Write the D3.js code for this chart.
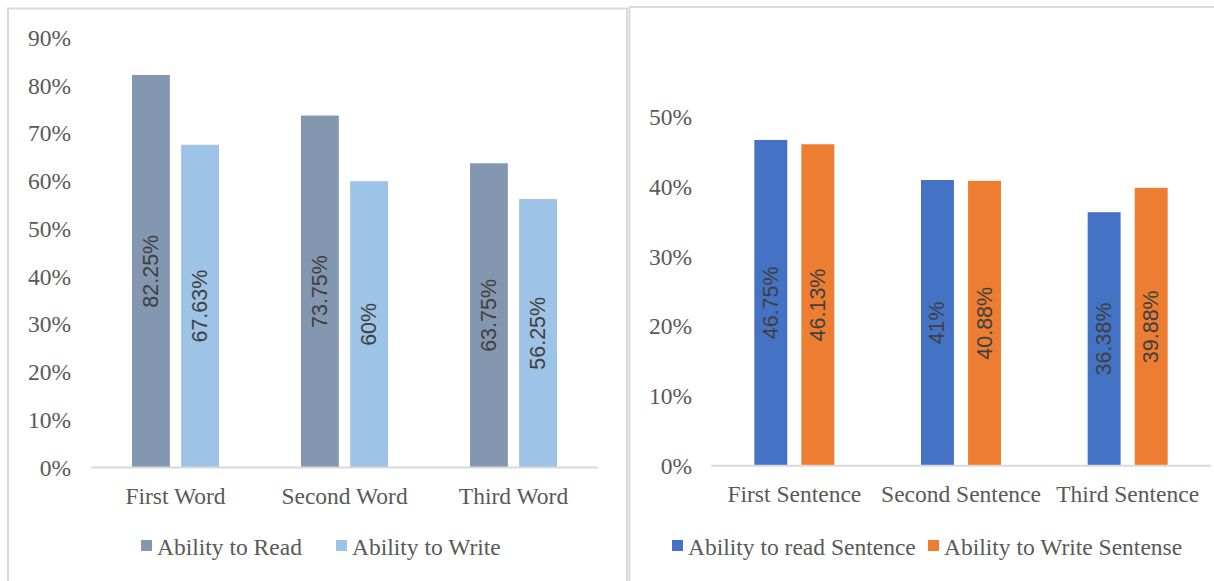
<!DOCTYPE html>
<html>
<head>
<meta charset="utf-8">
<script src="https://cdn.jsdelivr.net/npm/d3@7"></script>
<style>
  html, body { margin: 0; padding: 0; background: #fff; }
  svg { display: block; }
  .tick-label, .cat-label, .legend-label { font-family: "Liberation Serif", "Times New Roman", serif; font-size: 23.5px; fill: #595959; }
  .value-label { font-family: "Liberation Sans", Arial, sans-serif; font-size: 21.5px; fill: #404040; }
</style>
</head>
<body>
<svg id="chart" width="1214" height="581"></svg>
<script>
// Word recognition (left panel)
const wordCategories = ["First Word", "Second Word", "Third Word"];
const wordSeries = ["Ability to Read", "Ability to Write"];
const readWord = [82.25, 73.75, 63.75];
const writeWord = [67.63, 60, 56.25];
const wordTicks = [0, 10, 20, 30, 40, 50, 60, 70, 80, 90];
const wordColors = ["#8497B0", "#9DC3E6"];

// Sentence recognition (right panel)
const sentenceCategories = ["First Sentence", "Second Sentence", "Third Sentence"];
const sentenceSeries = ["Ability to read Sentence", "Ability to Write Sentense"];
const readSentence = [46.75, 41, 36.38];
const writeSentence = [46.13, 40.88, 39.88];
const sentenceTicks = [0, 10, 20, 30, 40, 50];
const sentenceColors = ["#4472C4", "#ED7D31"];

const svg = d3.select("#chart");
const fmtPct = v => v + "%";

// panel frames
svg.append("rect").attr("x", 8).attr("y", 8.5).attr("width", 619).attr("height", 600)
  .attr("fill", "none").attr("stroke", "#D9D9D9").attr("stroke-width", 2);
svg.append("rect").attr("x", 629.5).attr("y", 7).attr("width", 600).attr("height", 600)
  .attr("fill", "none").attr("stroke", "#D9D9D9").attr("stroke-width", 2);

function drawPanel(cfg) {
  const g = svg.append("g");
  const y = d3.scaleLinear().domain(cfg.yDomain).range([cfg.y0, cfg.y1]);
  const x0 = d3.scaleBand().domain(cfg.categories).range([cfg.xLeft, cfg.xRight]);
  const x1 = d3.scaleBand().domain(cfg.series).range([0, cfg.groupWidth]).paddingInner(cfg.innerPad);
  const groupOffset = (x0.bandwidth() - cfg.groupWidth) / 2;

  // value axis labels
  const yAxis = d3.axisLeft(y).tickValues(cfg.ticks).tickFormat(fmtPct).tickSize(0).tickPadding(0);
  const ya = g.append("g").attr("transform", `translate(${cfg.labelRight},0)`).call(yAxis);
  ya.select(".domain").remove();
  ya.selectAll("text").attr("class", "tick-label").attr("fill", null).attr("font-size", null).attr("font-family", null);

  // bars
  const rows = cfg.categories.map((c, i) => ({ cat: c, values: cfg.values.map(v => v[i]) }));
  const grp = g.selectAll(".grp").data(rows).join("g")
    .attr("transform", d => `translate(${x0(d.cat) + groupOffset},0)`);
  const cells = grp.selectAll(".cell").data(d => d.values.map((v, k) => ({ v, k, s: cfg.series[k] })))
    .join("g");
  cells.append("rect")
    .attr("x", d => x1(d.s))
    .attr("width", x1.bandwidth())
    .attr("y", d => y(d.v))
    .attr("height", d => y(0) - y(d.v))
    .attr("fill", d => cfg.colors[d.k]);
  cells.append("text")
    .attr("class", "value-label")
    .attr("text-anchor", "middle")
    .attr("dominant-baseline", "central")
    .attr("transform", d => `translate(${x1(d.s) + x1.bandwidth() / 2},${(y(d.v) + y(0)) / 2}) rotate(-90)`)
    .text(d => fmtPct(d.v));

  // baseline
  g.append("line").attr("x1", cfg.xLeft).attr("x2", cfg.xRight)
    .attr("y1", y(0)).attr("y2", y(0)).attr("stroke", "#D9D9D9").attr("stroke-width", 2);

  // category labels
  const xAxis = d3.axisBottom(x0).tickSize(0).tickPadding(0);
  const xa = g.append("g").attr("transform", `translate(0,${cfg.catBaseline})`).call(xAxis);
  xa.select(".domain").remove();
  xa.selectAll("text").attr("class", "cat-label").attr("fill", null).attr("font-size", null)
    .attr("font-family", null).attr("dy", 0);

  // legend
  const lg = g.selectAll(".legend").data(cfg.series).join("g")
    .attr("transform", (d, i) => `translate(${cfg.legendX[i]},${cfg.legendBaseline})`);
  lg.append("rect").attr("x", 0).attr("y", -15).attr("width", 11).attr("height", 11)
    .attr("fill", (d, i) => cfg.colors[i]);
  lg.append("text").attr("class", "legend-label").attr("x", 16).attr("y", 0).text(d => d);
}

drawPanel({
  categories: wordCategories, series: wordSeries, values: [readWord, writeWord],
  colors: wordColors, ticks: wordTicks, yDomain: [0, 90], y0: 467.5, y1: 38,
  xLeft: 91, xRight: 598, groupWidth: 87, innerPad: 0.23,
  labelRight: 71, catBaseline: 504, legendBaseline: 555, legendX: [141, 336]
});

drawPanel({
  categories: sentenceCategories, series: sentenceSeries, values: [readSentence, writeSentence],
  colors: sentenceColors, ticks: sentenceTicks, yDomain: [0, 50], y0: 465.7, y1: 117.3,
  xLeft: 711, xRight: 1211, groupWidth: 80, innerPad: 0.3,
  labelRight: 692, catBaseline: 502, legendBaseline: 555, legendX: [672, 928]
});
</script>
</body>
</html>
